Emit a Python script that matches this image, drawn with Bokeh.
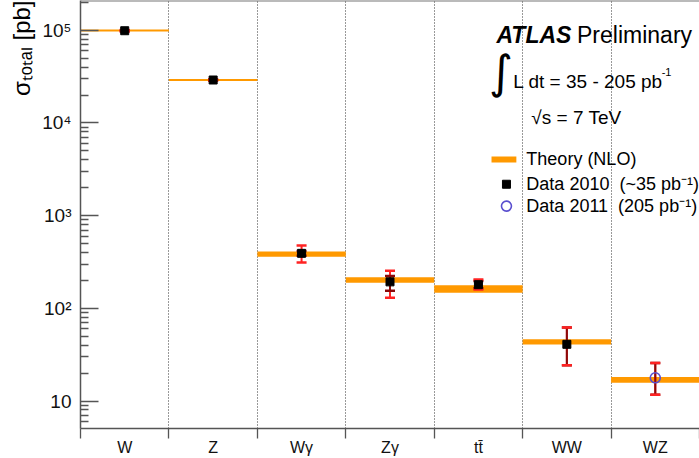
import math
from bokeh.plotting import figure
from bokeh.models import Range1d, FixedTicker, Label, Span, Title
from bokeh.embed import file_html
from bokeh.resources import INLINE

# ---------------- data ----------------
categories = ["W", "Z", "Wγ", "Zγ", "tt\u0304", "WW", "WZ"]
theory_lo = [9.7e4, 2.84e4, 360, 189, 147, 40.8, 15.7]
theory_hi = [1.02e5, 2.98e4, 411, 217, 177, 46.4, 18.1]
data_val = [9.9e4, 2.91e4, 392, 193, 180, 40.9, 17.8]
total_lo = [9.7e4, 2.86e4, 313, 130, 160, 24.3, 11.7]
total_hi = [1.01e5, 2.96e4, 476, 254, 205, 62.0, 25.7]
stat_lo = [9.8e4, 2.88e4, 370, 155, 165, 24.3, 11.7]
stat_hi = [1.0e5, 2.94e4, 415, 224, 197, 62.0, 25.7]
data_year = [2010, 2010, 2010, 2010, 2010, 2010, 2011]
y_ticks = [10, 100, 1000, 10000, 100000]
y_tick_labels = ["10", "10²", "10³", "10⁴", "10⁵"]
y_min, y_max = 5.05, 2.098e5

FONT = "Liberation Sans"
THEORY = "#FF9900"
RED = "#FF2222"
DARKRED = "#8B0A0A"
BLUE = "#5A4FCF"

n = len(categories)
xc = [i + 0.5 for i in range(n)]

p = figure(width=699, height=458, x_range=Range1d(0, n), y_range=Range1d(y_min, y_max),
           y_axis_type="log", output_backend="svg", toolbar_location=None,
           min_border_left=77, min_border_right=0, min_border_top=0, min_border_bottom=27)
p.outline_line_color = None
p.background_fill_color = "white"
p.border_fill_color = "white"

# axes
p.yaxis.ticker = FixedTicker(ticks=y_ticks,
                             minor_ticks=[m * 10 ** e for e in range(0, 6) for m in range(2, 10)])
p.yaxis.major_label_overrides = {t: s for t, s in zip(y_ticks, y_tick_labels)}
p.yaxis.major_tick_in = 18
p.yaxis.major_tick_out = 0
p.yaxis.minor_tick_in = 8
p.yaxis.minor_tick_out = 0
p.yaxis.major_label_standoff = 9
p.yaxis.major_label_text_font = FONT
p.yaxis.major_label_text_font_size = "19px"
p.yaxis.major_label_text_color = "#111"

p.xaxis.ticker = FixedTicker(ticks=xc, minor_ticks=list(range(n + 1)))
p.xaxis.major_label_overrides = {x: c for x, c in zip(xc, categories)}
p.xaxis.major_tick_in = 0
p.xaxis.major_tick_out = 0
p.xaxis.minor_tick_in = 0
p.xaxis.minor_tick_out = 10
p.xaxis.major_label_standoff = 0
p.xaxis.major_label_text_font = FONT
p.xaxis.major_label_text_font_size = "16px"
p.xaxis.major_label_text_color = "#111"

for ax in (p.xaxis, p.yaxis):
    ax.axis_line_color = "#555"
    ax.axis_line_width = 1.5
    ax.major_tick_line_color = "#555"
    ax.minor_tick_line_color = "#555"
    ax.major_tick_line_width = 1.3
    ax.minor_tick_line_width = 1.3

# y-axis title
p.add_layout(Title(text="σₜₒₜₐₗ [pb]", align="right", text_font=FONT, text_font_size="24px",
                   text_font_style="normal", text_color="black"), "left")

p.ygrid.grid_line_color = None
p.xgrid.ticker = FixedTicker(ticks=list(range(1, n)))
p.xgrid.grid_line_color = "#333"
p.xgrid.grid_line_dash = "1 2"
p.xgrid.grid_line_width = 1
p.add_layout(Span(location=y_max, dimension="width", line_color="#777", line_width=2))

# theory bands
p.quad(left=list(range(n)), right=list(range(1, n + 1)), bottom=theory_lo, top=theory_hi,
       fill_color=THEORY, line_color=None)

# error bars
p.segment(x0=xc, x1=xc, y0=total_lo, y1=total_hi, line_color=RED, line_width=2)
p.segment(x0=xc, x1=xc, y0=stat_lo, y1=stat_hi, line_color=DARKRED, line_width=2)
p.scatter(x=xc + xc, y=stat_lo + stat_hi, marker="dash", size=10, line_color=DARKRED, line_width=2.5)
p.scatter(x=xc + xc, y=total_lo + total_hi, marker="dash", size=10, line_color=RED, line_width=2.5)

# data markers
x10 = [x for x, yr in zip(xc, data_year) if yr == 2010]
y10 = [v for v, yr in zip(data_val, data_year) if yr == 2010]
x11 = [x for x, yr in zip(xc, data_year) if yr == 2011]
y11 = [v for v, yr in zip(data_val, data_year) if yr == 2011]
p.scatter(x=x10, y=y10, marker="square", size=8, fill_color="black", line_color="black")
p.scatter(x=x11, y=y11, marker="circle", size=10, fill_color="white", fill_alpha=0.0,
          line_color=BLUE, line_width=1.6)

# ---- text annotations ----
def lab(x, y, text, size, style="normal", align="left", baseline="alphabetic", font=FONT):
    p.add_layout(Label(x=x, y=y, text=text, text_font=font, text_font_size=size,
                       text_font_style=style, text_align=align, text_baseline=baseline,
                       text_color="black"))

lab(4.704, 8.85e4, "ATLAS", "23px", style="bold italic")
lab(5.615, 8.85e4, "Preliminary", "23px")
lab(4.62, 3.55e4, "∫", "46px", baseline="middle", font="DejaVu Sans")
lab(4.895, 2.77e4, "L dt = 35 - 205 pb", "19px")
lab(6.572, 3.55e4, "-1", "11px")
lab(5.098, 1.14e4, "√s = 7 TeV", "19px")

# legend
p.quad(left=[4.648], right=[4.929], bottom=[3758], top=[4355], fill_color=THEORY, line_color=None)
lab(5.042, 4045, "Theory (NLO)", "18px", baseline="middle")
p.scatter(x=[4.817], y=[2183], marker="square", size=8, fill_color="black", line_color="black")
lab(5.042, 2183, "Data 2010\u00a0\u00a0(~35 pb⁻¹)", "18px", baseline="middle")
p.scatter(x=[4.817], y=[1268], marker="circle", size=10, fill_alpha=0.0, line_color=BLUE, line_width=1.6)
lab(5.042, 1268, "Data 2011\u00a0\u00a0(205 pb⁻¹)", "18px", baseline="middle")

open("out.html", "w").write(file_html(p, INLINE))
